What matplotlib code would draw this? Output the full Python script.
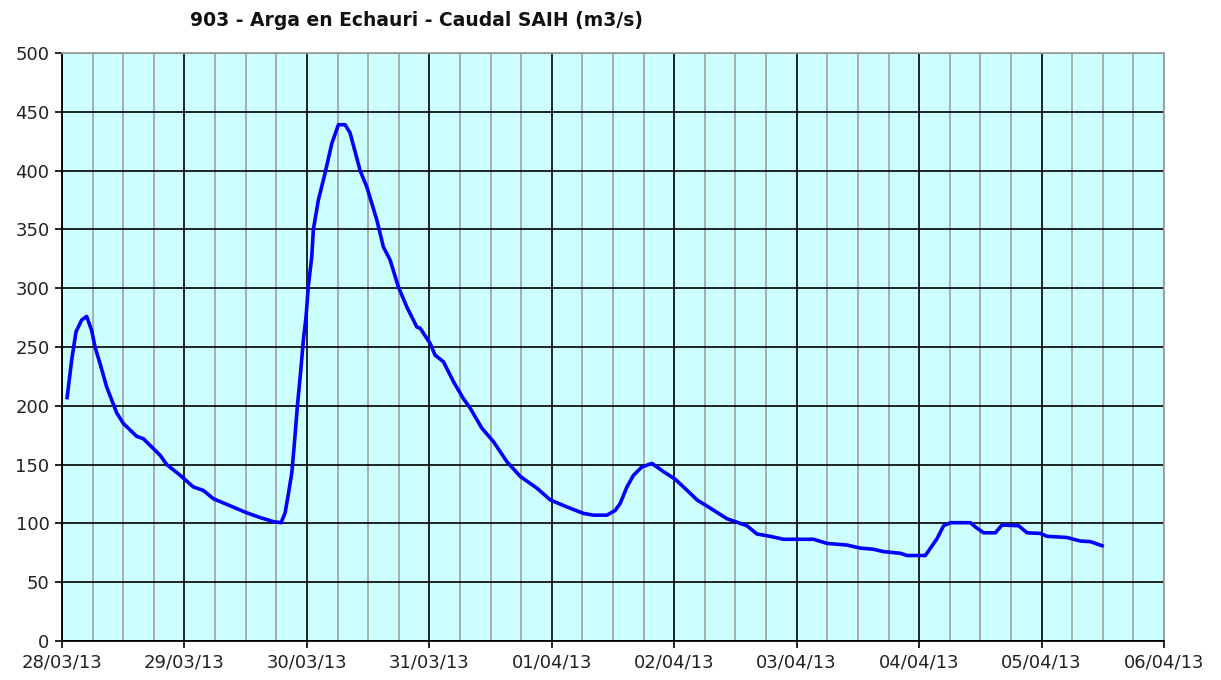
import matplotlib.pyplot as plt
import matplotlib.dates as mdates
import pandas as pd

# Caudal SAIH, estacion 903 (Arga en Echauri)
start = "2013-03-28 00:00"
hours = [1.0, 1.9, 2.75, 3.86, 4.84, 5.82, 6.47, 7.45, 8.76, 10.72,
         12.02, 14.65, 15.94, 19.22, 20.53, 23.14, 25.75, 27.71, 29.67, 32.94,
         36.22, 38.82, 41.43, 42.94, 43.73, 44.37, 45.04, 45.49, 46.14, 46.80,
         47.31, 47.84, 48.29, 48.96, 49.27, 50.25, 51.57, 52.88, 54.18, 55.49,
         56.47, 58.43, 59.75, 61.71, 63.00, 64.31, 65.94, 67.59, 69.55, 70.20,
         72.16, 73.14, 74.76, 76.73, 78.69, 80.00, 82.29, 84.57, 87.20, 89.80,
         93.08, 95.69, 98.96, 102.22, 104.18, 106.80, 108.43, 109.41, 110.73, 112.02,
         113.67, 115.63, 117.90, 120.20, 122.80, 124.45, 127.06, 130.33, 134.25, 136.21,
         138.82, 141.43, 147.31, 149.94, 153.86, 156.47, 159.08, 161.04, 164.31, 165.63,
         169.22, 170.20, 171.51, 172.80, 174.12, 178.04, 179.02, 180.65, 182.94, 184.25,
         187.51, 189.16, 191.76, 193.08, 197.00, 199.61, 201.57, 203.86]
caudal = [207, 239, 263, 273, 276, 264, 250, 236, 216, 194,
          185, 174, 172, 158, 150, 141, 131, 128, 121, 115,
          109, 105, 101.5, 100.6, 109, 125, 143, 165, 200, 230,
          256, 276, 302, 327, 350, 375, 398, 423, 439, 439,
          432, 400, 386, 358, 335, 324, 301, 284, 267, 266,
          253, 243, 237.5, 220.5, 206, 198, 181, 169.5, 152.5, 140,
          130, 120, 114, 108.5, 107, 107, 111, 117, 131, 141,
          148, 151, 144, 137.5, 127, 120, 113, 104, 98, 91,
          89, 86.5, 86.5, 83, 81.6, 79, 78, 76, 74.6, 72.7,
          72.7, 78.8, 87, 98, 100.6, 100.6, 97, 92, 92, 98.6,
          98, 92, 91.5, 89, 88, 85, 84.5, 81]

times = pd.Timestamp(start) + pd.to_timedelta(hours, unit="h")

fig = plt.figure(figsize=(12.21, 6.8), dpi=100)
ax = fig.add_axes([62 / 1221, 1 - 641 / 680, 1102 / 1221, 588 / 680])
ax.set_facecolor("#CCFFFF")

ax.plot(times, caudal, color="#0000FF", lw=2.6, solid_joinstyle="round", zorder=3)

ax.set_xlim(pd.Timestamp("2013-03-28"), pd.Timestamp("2013-04-06"))
ax.set_ylim(0, 500)
ax.set_yticks(range(0, 501, 50))
ax.xaxis.set_major_locator(mdates.DayLocator())
ax.xaxis.set_minor_locator(mdates.HourLocator(byhour=[6, 12, 18]))
ax.xaxis.set_major_formatter(mdates.DateFormatter("%d/%m/%y"))

ax.grid(True, which="major", color="black", lw=1.2, zorder=1)
ax.grid(True, which="minor", axis="x", color="#A0A0A0", lw=1.2, zorder=1)
ax.set_axisbelow(True)

ax.tick_params(axis="both", which="major", direction="out", length=5, width=1.2,
               labelsize=13, colors="black", labelcolor="#222222", pad=4)
ax.tick_params(axis="x", which="minor", length=0)

for side in ["left", "bottom"]:
    ax.spines[side].set_color("black")
    ax.spines[side].set_linewidth(1.3)
for side in ["top", "right"]:
    ax.spines[side].set_color("#A0A0A0")
    ax.spines[side].set_linewidth(1.3)

fig.text(190 / 1221, 1 - 21 / 680, "903 - Arga en Echauri - Caudal SAIH (m3/s)",
         fontsize=13.5, fontweight="bold", ha="left", va="center", color="#111111")

fig.savefig("out.png", dpi=100)
